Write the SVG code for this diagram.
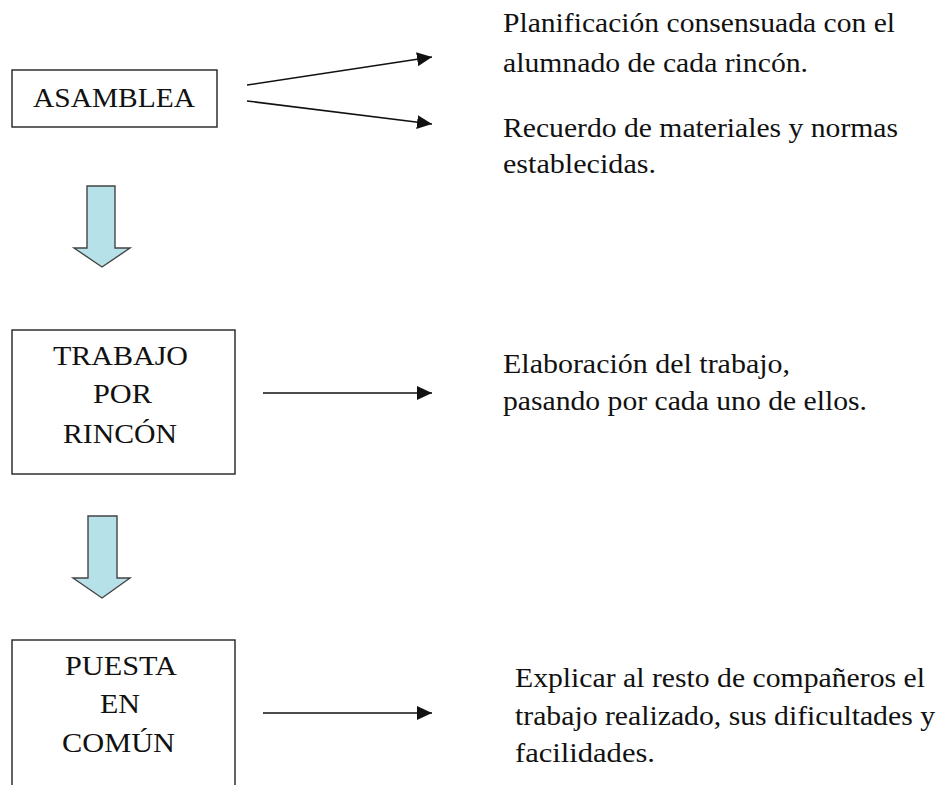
<svg xmlns="http://www.w3.org/2000/svg" width="939" height="785" viewBox="0 0 939 785">
<style>
.box{fill:#fff;stroke:#222;stroke-width:1.4}
.blk{fill:#b7e1e9;stroke:#444;stroke-width:1.4;stroke-linejoin:miter}
.t,.lbl{font-family:'Liberation Serif','DejaVu Serif','Times New Roman',Times,serif;font-size:27px;fill:#111}
.con{stroke:#111;stroke-width:1.5;fill:none;marker-end:url(#ah)}
</style>
<defs>
<marker id="ah" markerUnits="userSpaceOnUse" markerWidth="15" markerHeight="14" refX="15" refY="7" orient="auto">
<path d="M0,0 L15,7 L0,14 z" fill="#111"/>
</marker>
</defs>
<rect width="939" height="785" fill="#fff"/>
<g id="asamblea">
<rect class="box" x="12" y="70" width="205" height="57"/>
<text class="lbl" x="33" y="107" textLength="162" lengthAdjust="spacingAndGlyphs">ASAMBLEA</text>
</g>
<g id="trabajo">
<rect class="box" x="12" y="330" width="223" height="144"/>
<text class="lbl" x="53" y="365" textLength="135" lengthAdjust="spacingAndGlyphs">TRABAJO</text>
<text class="lbl" x="93" y="403" textLength="59" lengthAdjust="spacingAndGlyphs">POR</text>
<text class="lbl" x="63" y="443" textLength="114" lengthAdjust="spacingAndGlyphs">RINCÓN</text>
</g>
<g id="puesta">
<rect class="box" x="12" y="640" width="223" height="170"/>
<text class="lbl" x="65" y="675" textLength="112" lengthAdjust="spacingAndGlyphs">PUESTA</text>
<text class="lbl" x="100" y="713" textLength="40" lengthAdjust="spacingAndGlyphs">EN</text>
<text class="lbl" x="62" y="752" textLength="113" lengthAdjust="spacingAndGlyphs">COMÚN</text>
</g>
<g id="planificacion">
<text class="t" x="503" y="32" textLength="392" lengthAdjust="spacingAndGlyphs">Planificación consensuada con el</text>
<text class="t" x="503" y="72" textLength="305" lengthAdjust="spacingAndGlyphs">alumnado de cada rincón.</text>
</g>
<g id="recuerdo">
<text class="t" x="503" y="137" textLength="395" lengthAdjust="spacingAndGlyphs">Recuerdo de materiales y normas</text>
<text class="t" x="503" y="173" textLength="153" lengthAdjust="spacingAndGlyphs">establecidas.</text>
</g>
<g id="elaboracion">
<text class="t" x="503" y="373" textLength="287" lengthAdjust="spacingAndGlyphs">Elaboración del trabajo,</text>
<text class="t" x="503" y="410" textLength="364" lengthAdjust="spacingAndGlyphs">pasando por cada uno de ellos.</text>
</g>
<g id="explicar">
<text class="t" x="515" y="687" textLength="410" lengthAdjust="spacingAndGlyphs">Explicar al resto de compañeros el</text>
<text class="t" x="515" y="725" textLength="420" lengthAdjust="spacingAndGlyphs">trabajo realizado, sus dificultades y</text>
<text class="t" x="515" y="762" textLength="140" lengthAdjust="spacingAndGlyphs">facilidades.</text>
</g>
<g id="connectors">
<line class="con" x1="247" y1="85" x2="432" y2="57"/>
<line class="con" x1="247" y1="101" x2="432" y2="124"/>
<line class="con" x1="263" y1="393" x2="432" y2="393"/>
<line class="con" x1="263" y1="713" x2="432" y2="713"/>
<path class="blk" d="M87,186 L115,186 L115,248 L130,248 L102,267 L74,248 L87,248 Z"/>
<path class="blk" d="M88,516 L117,516 L117,578 L130,578 L102,598 L73,578 L88,578 Z"/>
</g>
</svg>
